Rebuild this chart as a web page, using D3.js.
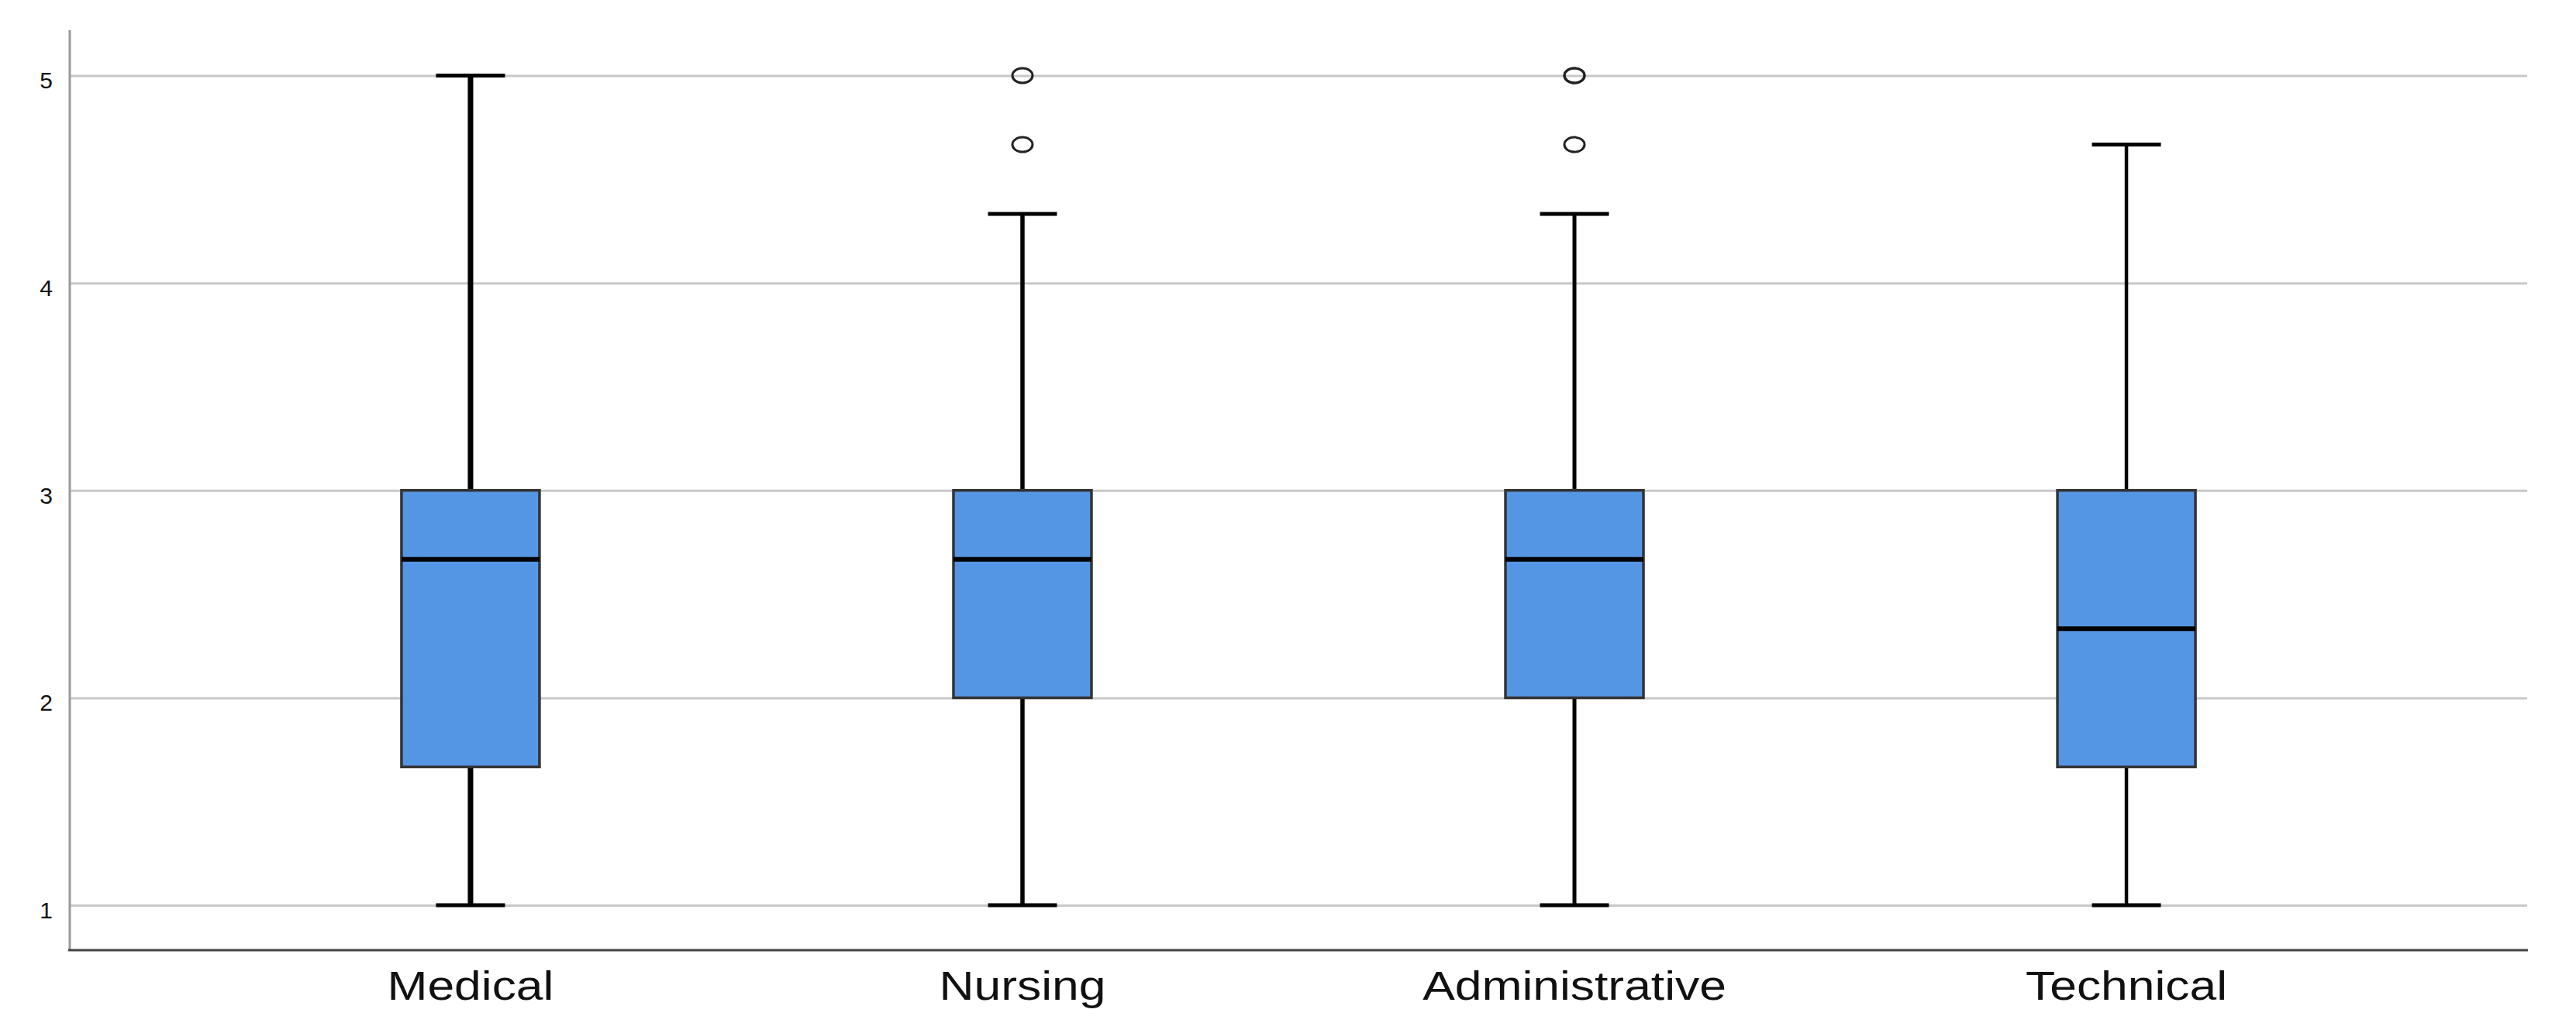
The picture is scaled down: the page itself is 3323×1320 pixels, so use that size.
<!DOCTYPE html>
<html>
<head>
<meta charset="utf-8">
<script src="https://cdn.jsdelivr.net/npm/d3@7"></script>
<style>
html,body{margin:0;padding:0;background:#fff;}
svg{display:block;}
</style>
</head>
<body>
<script>
const categories = ["Medical", "Nursing", "Administrative", "Technical"];
const mins    = [1, 1, 1, 1];
const q1s     = [1.667, 2, 2, 1.667];
const medians = [2.667, 2.667, 2.667, 2.333];
const q3s     = [3, 3, 3, 3];
const maxs    = [5, 4.333, 4.333, 4.667];
const outliers = [[], [4.667, 5], [4.667, 5, 5], []];
const yTicks = [1, 2, 3, 4, 5];

(function () {
const W = 3323, H = 1320;
const whiskerWidths = [7, 5.5, 5, 4.5];

const svg = d3.select("body").append("svg").attr("width", W).attr("height", H);
svg.append("rect").attr("width", W).attr("height", H).attr("fill", "#fff");

const plotL = 90, plotR = 3260, plotT = 39, plotB = 1226;
const y = d3.scaleLinear().domain([1, 5]).range([1168, 97.5]);
const x = d3.scalePoint().domain(categories).range([plotL, plotR]).padding(0.726);
const boxW = x.step() * 0.25;
const capW = boxW * 0.5;

// gridlines
const grid = svg.append("g")
  .attr("transform", `translate(${plotL},0)`)
  .call(d3.axisLeft(y).tickValues(yTicks).tickSize(-(plotR - plotL)).tickFormat(""));
grid.select(".domain").remove();
grid.selectAll(".tick line").attr("stroke", "#c8c8c8").attr("stroke-width", 3);

// y labels
svg.append("g").selectAll("text").data(yTicks).join("text")
  .attr("x", 68).attr("y", d => y(d) + 6)
  .attr("dy", "0.36em")
  .attr("text-anchor", "end")
  .attr("font-family", "Liberation Sans, Arial, sans-serif")
  .attr("font-size", 30)
  .attr("fill", "#111")
  .text(d => d);

// axes lines
svg.append("line").attr("x1", plotL).attr("x2", plotL).attr("y1", plotT).attr("y2", plotB)
  .attr("stroke", "#999").attr("stroke-width", 3);
svg.append("line").attr("x1", plotL - 2).attr("x2", plotR + 1).attr("y1", plotB).attr("y2", plotB)
  .attr("stroke", "#444").attr("stroke-width", 3);

// boxes
const g = svg.append("g");
categories.forEach((c, i) => {
  const cx = x(c);
  const sw = whiskerWidths[i];
  g.append("line").attr("x1", cx).attr("x2", cx).attr("y1", y(q3s[i])).attr("y2", y(maxs[i]))
    .attr("stroke", "#000").attr("stroke-width", sw);
  g.append("line").attr("x1", cx).attr("x2", cx).attr("y1", y(q1s[i])).attr("y2", y(mins[i]))
    .attr("stroke", "#000").attr("stroke-width", sw);
  g.append("line").attr("x1", cx - capW / 2).attr("x2", cx + capW / 2)
    .attr("y1", y(maxs[i])).attr("y2", y(maxs[i]))
    .attr("stroke", "#000").attr("stroke-width", 5);
  g.append("line").attr("x1", cx - capW / 2).attr("x2", cx + capW / 2)
    .attr("y1", y(mins[i])).attr("y2", y(mins[i]))
    .attr("stroke", "#000").attr("stroke-width", 5);
  g.append("rect").attr("x", cx - boxW / 2).attr("y", y(q3s[i]))
    .attr("width", boxW).attr("height", y(q1s[i]) - y(q3s[i]))
    .attr("fill", "#5596E4").attr("stroke", "#333").attr("stroke-width", 3.5);
  g.append("line").attr("x1", cx - boxW / 2).attr("x2", cx + boxW / 2)
    .attr("y1", y(medians[i])).attr("y2", y(medians[i]))
    .attr("stroke", "#000").attr("stroke-width", 6);
  g.selectAll(null).data(outliers[i]).join("ellipse")
    .attr("cx", cx).attr("cy", d => y(d))
    .attr("rx", 13).attr("ry", 9.5)
    .attr("fill", "none").attr("stroke", "#222").attr("stroke-width", 3);
});

// x labels
svg.append("g").selectAll("text").data(categories).join("text")
  .attr("transform", d => `translate(${x(d)},1290) scale(1.2,1)`)
  .attr("text-anchor", "middle")
  .attr("font-family", "Liberation Sans, Arial, sans-serif")
  .attr("font-size", 52)
  .attr("fill", "#111")
  .text(d => d);
})();
</script>
</body>
</html>
